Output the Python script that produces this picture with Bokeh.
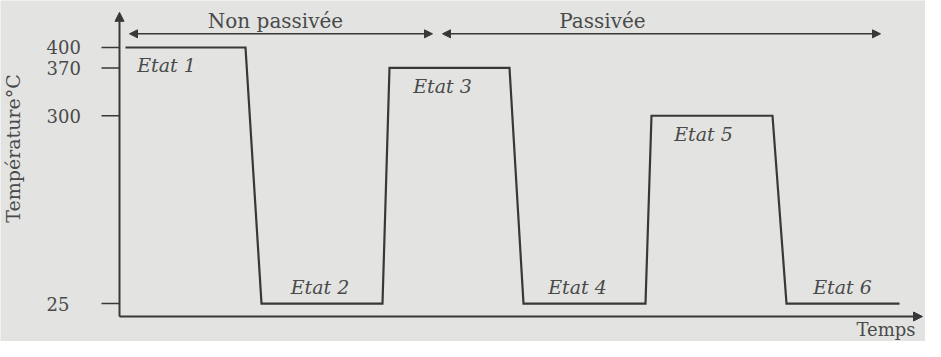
import math
from bokeh.plotting import figure
from bokeh.models import Arrow, NormalHead, Label, ColumnDataSource, Range1d
from bokeh.core.properties import value
from bokeh.embed import file_html
from bokeh.resources import INLINE

# ---- data (time in arbitrary units) ----
time = [0.6, 12.6, 14.2, 26.3, 27.0, 39.0, 40.4, 52.6, 53.2, 65.3, 66.7, 78.0]
temperature = [400, 400, 25, 25, 370, 370, 25, 25, 300, 300, 25, 25]

state_labels = ["Etat 1", "Etat 2", "Etat 3", "Etat 4", "Etat 5", "Etat 6"]
state_time = [4.7, 20.05, 32.3, 45.8, 58.4, 72.3]
state_temp = [400, 25, 370, 25, 300, 25]

phase_labels = ["Non passivée", "Passivée"]
phase_start = [1.0, 32.3]
phase_end = [31.3, 76.1]
phase_label_time = [15.6, 48.3]
phase_level = 420

y_ticks = [25, 300, 370, 400]
y_tick_labels = ["25", "300", "370", "400"]

axis_origin_time = 0.0
axis_origin_temp = 6.0
axis_top_temp = 451.5
axis_end_time = 80.3

BG = "#e3e4e2"
LINE = "#383838"
TEXT = "#4a4a4a"
SERIF = "DejaVu Serif"

W, H = 925, 341
X0, X1 = -11.9, 80.6
Y0, Y1 = -30.6, 468.8
px_per_t = W / (X1 - X0)

p = figure(width=W, height=H, output_backend="svg", toolbar_location=None,
           x_range=Range1d(X0, X1), y_range=Range1d(Y0, Y1),
           min_border_left=0, min_border_right=0, min_border_top=0, min_border_bottom=0)
p.background_fill_color = BG
p.border_fill_color = BG
p.outline_line_color = None
p.grid.visible = False
p.axis.visible = False

# axes drawn as arrows
head = dict(size=9, fill_color=LINE, line_color=LINE)
p.add_layout(Arrow(end=NormalHead(**head), x_start=axis_origin_time, y_start=axis_origin_temp,
                   x_end=axis_origin_time, y_end=axis_top_temp, line_color=LINE, line_width=2))
p.add_layout(Arrow(end=NormalHead(**head), x_start=axis_origin_time, y_start=axis_origin_temp,
                   x_end=axis_end_time, y_end=axis_origin_temp, line_color=LINE, line_width=2))

# y ticks and tick labels
tick_len = 18 / px_per_t
p.segment(x0=[axis_origin_time - tick_len] * len(y_ticks), y0=y_ticks,
          x1=[axis_origin_time] * len(y_ticks), y1=y_ticks, line_color=LINE, line_width=1.5)
tick_src = ColumnDataSource(dict(y=y_ticks, text=y_tick_labels,
                                 x=[axis_origin_time - 73 / px_per_t] * len(y_ticks)))
p.text(x="x", y="y", text="text", source=tick_src, text_align="left", text_baseline="middle",
       text_font=value(SERIF), text_font_size="18px", text_color=TEXT)

# y axis title (rotated)
p.add_layout(Label(x=axis_origin_time - 107 / px_per_t, y=(Y0 + Y1) / 2 + 33,
                   text="Température°C", angle=math.pi / 2, text_align="center",
                   text_baseline="middle", text_font=SERIF, text_font_size="19px",
                   text_color=TEXT))

# temperature profile
p.line(time, temperature, line_color=LINE, line_width=2.2, line_join="miter")

# state labels
offsets = [18 if t > 100 else -17 for t in state_temp]
src = ColumnDataSource(dict(x=state_time, y=state_temp, text=state_labels, yo=offsets))
p.text(x="x", y="y", text="text", source=src, y_offset="yo", text_align="center",
       text_baseline="middle", text_font=value(SERIF), text_font_style="italic",
       text_font_size="19px", text_color=TEXT)

# phase arrows + labels
for lab, s, e, lt in zip(phase_labels, phase_start, phase_end, phase_label_time):
    p.add_layout(Arrow(start=NormalHead(size=8, fill_color=LINE, line_color=LINE),
                       end=NormalHead(size=8, fill_color=LINE, line_color=LINE),
                       x_start=s, y_start=phase_level, x_end=e, y_end=phase_level,
                       line_color=LINE, line_width=1.5))
    p.add_layout(Label(x=lt, y=phase_level, text=lab, text_align="center",
                       text_baseline="bottom", y_offset=1, text_font=SERIF,
                       text_font_size="20px", text_color=TEXT))

# time axis label
p.add_layout(Label(x=axis_end_time - 7 / px_per_t, y=Y0, text="Temps", text_align="right",
                   text_baseline="bottom", y_offset=2, text_font=SERIF,
                   text_font_size="18px", text_color=TEXT))

open("out.html", "w").write(file_html(p, INLINE))
